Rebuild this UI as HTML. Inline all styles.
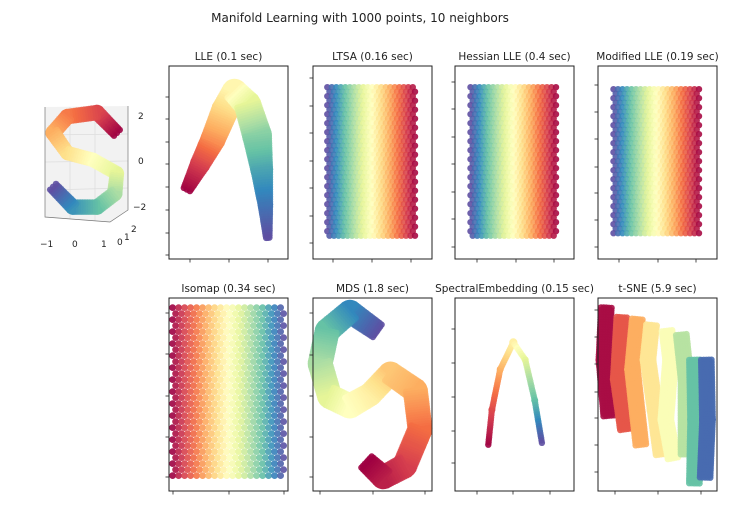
<!DOCTYPE html>
<html><head><meta charset="utf-8">
<style>
html,body{margin:0;padding:0;background:#fff;}
svg{display:block;font-family:"DejaVu Sans","Liberation Sans",sans-serif;}
</style></head>
<body>
<svg id="fig" width="755" height="511" viewBox="0 0 755 511" xmlns="http://www.w3.org/2000/svg">
<rect width="755" height="511" fill="#fff"/>
<text x="360" y="22" font-size="12" text-anchor="middle" fill="#222">Manifold Learning with 1000 points, 10 neighbors</text>
<g id="layer"></g>
</svg>
<script>
// ---- data (panel units 0-100, y up) ----
const sU=[79,61,34,21,34,57,79,77,61,39,21];
const sV=[72,87,84,72,57,52,42,27,17,17,32];
const sT=[0,.12,.22,.3,.4,.5,.6,.7,.8,.88,1];
const sW=[12,13,13,13,12,12,12,13,13,13,12];

const lleU=[15,26,37,47,55,66,74,78,81,83];
const lleV=[36,49,62,77,87,80,64,46,28,11];
const lleT=[0,.1,.25,.38,.47,.6,.75,.85,.93,1];
const lleW=[10,16,20,22,20,22,24,18,12,7];

const ltsaBox=[12,87,11,89];  const ltsaT=[1,0];
const hessBox=[13,86,12,89];  const hessT=[1,0];
const modBox=[13,86,12,88];   const modT=[1,0];
const isoBox=[3,97,5,95];     const isoT=[0,1];

const mdsU=[54,31,12,6,14,31,48,65,86,90,77,59,45];
const mdsV=[83,93,83,66,49,44,50,61,52,32,13,7,15];
const mdsT=[1,.9,.8,.7,.6,.5,.45,.35,.3,.2,.1,.05,0];
const mdsW=[17,19,20,20,20,20,19,19,20,20,20,19,17];

const speU=[28,31,38,49,59,67,73];
const speV=[24,42,63,77,68,47,25];
const speT=[0,.12,.3,.45,.6,.8,1];
const speW=[5,5,5,6,5,5,5];

const tsneU=[7,5,9, 20,17,23, 33,29,36, 45,42,48,53, 58,61,57,63, 70,74,74, 81,82,81, 91,92,90];
const tsneV=[95,68,39, 90,58,32, 89,63,24, 86,68,42,19, 83,68,37,17, 81,58,19, 68,37,4, 68,37,7];
const tsneT=[.02,.02,.02, .15,.15,.15, .3,.3,.3, .42,.42,.42,.42, .52,.52,.52,.52, .68,.68,.68, .8,.8,.8, .95,.95,.95];
const tsneS=[0,0,0, 1,1,1, 2,2,2, 3,3,3,3, 4,4,4,4, 5,5,5, 6,6,6, 7,7,7];

// ---- rendering ----
const NS="http://www.w3.org/2000/svg";
const layer=document.getElementById('layer');
const stops=[[158,1,66],[213,62,79],[244,109,67],[253,174,97],[254,224,139],[255,255,191],[230,245,152],[171,221,164],[102,194,165],[50,136,189],[94,79,162]];
function cmap(t){t=Math.max(0,Math.min(1,t))*10;const i=Math.min(9,Math.floor(t)),f=t-i;const a=stops[i],b=stops[i+1];
 return 'rgb('+a.map((v,k)=>Math.round(v+(b[k]-v)*f)).join(',')+')';}
function mk(tag,attrs,parent){const e=document.createElementNS(NS,tag);for(const k in attrs)e.setAttribute(k,attrs[k]);(parent||layer).appendChild(e);return e;}

function panel(name,title,x0,y0,w,h,yt,xt,frame){
 const g=mk('g',{});
 
 
 const sx=u=>x0+u/100*w, sy=v=>y0+h-v/100*h;
 if(title){const t=mk('text',{x:x0+w/2,y:y0-6,'font-size':'10.5','text-anchor':'middle',fill:'#222'},g);t.textContent=title;
  
  }
 const pts=mk('g',{},g);
 
 
 if(frame){
  const r=mk('rect',{x:x0,y:y0,width:w,height:h,fill:'none',stroke:'#222','stroke-width':1},g);
  
  
  (yt||[]).forEach(y=>mk('line',{x1:x0-3.5,x2:x0,y1:y,y2:y,stroke:'#222','stroke-width':0.8},g));
  (xt||[]).forEach(x=>mk('line',{x1:x,x2:x,y1:y0+h,y2:y0+h+3.5,stroke:'#222','stroke-width':0.8},g));
 }
 return {g:pts,sx,sy,w,h};
}
function dot(P,x,y,c,r){mk('circle',{cx:x.toFixed(1),cy:y.toFixed(1),r:r||3.2,fill:c,'fill-opacity':0.9},P.g);}
function ribbon(P,U,V,T,W){
 // joint discs for rounded corners
 for(let i=1;i<U.length-1;i++){
  const rr=W[i]*P.w/100/2+0.5;
  mk('circle',{cx:P.sx(U[i]).toFixed(1),cy:P.sy(V[i]).toFixed(1),r:rr.toFixed(1),fill:cmap(T[i])},P.g);
 }
 for(let i=0;i<U.length-1;i++){
  const x1=P.sx(U[i]),y1=P.sy(V[i]),x2=P.sx(U[i+1]),y2=P.sy(V[i+1]);
  const L=Math.hypot(x2-x1,y2-y1),n=Math.max(1,Math.ceil(L/2.5));
  const nx=-(y2-y1)/(L||1),ny=(x2-x1)/(L||1);
  for(let k=0;k<=n;k++){const f=k/n;const cx=x1+(x2-x1)*f,cy=y1+(y2-y1)*f;
   const t=T[i]+(T[i+1]-T[i])*f;const ww=Math.max(0,(W[i]+(W[i+1]-W[i])*f)*P.w/100/2-2.5);
   const m=Math.max(0,Math.round(ww/3));
   for(let j=-m;j<=m;j++){const o=m?j/m*ww:0;dot(P,cx+nx*o,cy+ny*o,cmap(t));}}
 }
}
function rectCloud(P,B,T,step,r){
 const xa=P.sx(B[0]),xb=P.sx(B[1]),ya=P.sy(B[3]),yb=P.sy(B[2]);
 let row=0;
 for(let y=ya;y<=yb+0.1;y+=step,row++){
  for(let x=xa+(row%2?step/2:0);x<=xb+0.1;x+=step){
   const f=(x-xa)/(xb-xa);dot(P,x,y,cmap(T[0]+(T[1]-T[0])*f),r);}
 }
}

// 3D S-curve panel: panes first, then points
const deco=mk('g',{stroke:'#bbb','stroke-width':0.7,fill:'none'});


mk('path',{d:'M45 107 L45 217 L110 222 L128 210 L128 106 Z',fill:'#f2f2f2',stroke:'none'},deco);
mk('path',{d:'M70 107 L70 219 M95 107 L95 221 M45 135 L128 134 M45 162 L128 161 M45 190 L128 188',stroke:'#ddd'},deco);
mk('path',{d:'M45 107 L45 217 L110 222 L128 210 L128 106',stroke:'#777'},deco);
const P0=panel('s-curve-3d','',30,95,110,135,null,null,false);
ribbon(P0,sU,sV,sT,sW);
[['2',138,119],['0',138,164],['−2',133,210],['−1',40,247],['0',72,247],['1',101,247],['0',117,245],['1',124,240],['2',131,232]].forEach(a=>{
 const t=mk('text',{x:a[1],y:a[2],'font-size':'9',fill:'#222'});t.textContent=a[0];
 
 });

const P1=panel('lle-panel','LLE (0.1 sec)',169,66,119,193,[97,119,142,164,187,210,233,255],[190,229,268],true);
ribbon(P1,lleU,lleV,lleT,lleW);
const P2=panel('ltsa-panel','LTSA (0.16 sec)',313,66,119,193,[78,106,133,161,188,216,243],[333,372,411],true);
rectCloud(P2,ltsaBox,ltsaT,4.5,3.2);
const P3=panel('hessian-lle-panel','Hessian LLE (0.4 sec)',455,66,119,193,[82,109,137,164,192,219,247],[477,516,554],true);
rectCloud(P3,hessBox,hessT,4.5,3.2);
const P4=panel('modified-lle-panel','Modified LLE (0.19 sec)',598,66,119,193,[85,112,139,167,193,220,247],[619,658,696],true);
rectCloud(P4,modBox,modT,4.5,3.2);
const P5=panel('isomap-panel','Isomap (0.34 sec)',169,298,119,193,[313,354,396,437,477],[173,229,284],true);
rectCloud(P5,isoBox,isoT,6,3.4);
const P6=panel('mds-panel','MDS (1.8 sec)',313,298,119,193,[313,355,396,437,477],[320,373,425],true);
ribbon(P6,mdsU,mdsV,mdsT,mdsW);
const P7=panel('spectral-embedding-panel','SpectralEmbedding (0.15 sec)',455,298,119,193,[329,363,397,431,463],[477,513,550],true);
ribbon(P7,speU,speV,speT,speW);
const P8=panel('tsne-panel','t-SNE (5.9 sec)',598,298,119,193,[310,337,364,392,418,445,472],[615,658,701],true);
let s0=0;
for(let i=1;i<=tsneS.length;i++){
 if(i===tsneS.length||tsneS[i]!==tsneS[s0]){
  ribbon(P8,tsneU.slice(s0,i),tsneV.slice(s0,i),tsneT.slice(s0,i),tsneU.slice(s0,i).map(()=>13));
  s0=i;}
}
</script>
</body></html>
